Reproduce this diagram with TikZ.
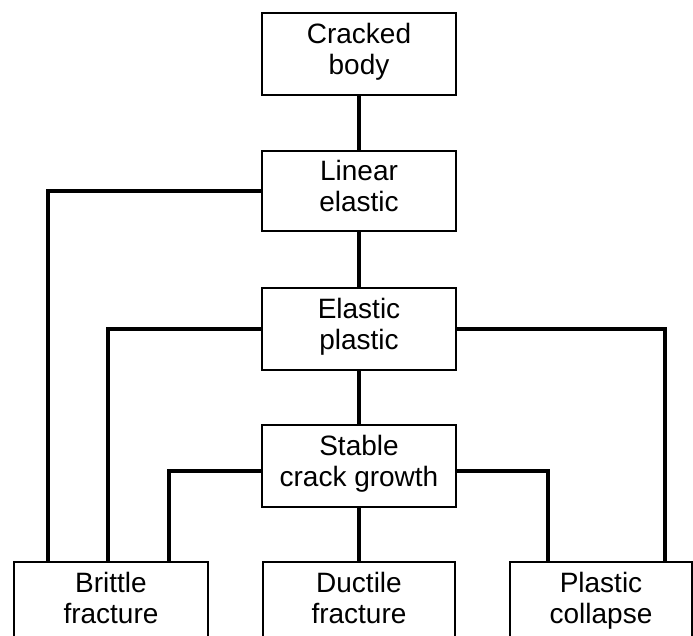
\documentclass[tikz,border=0pt]{standalone}
\usepackage{fontspec}
\setmainfont{Liberation Sans}
\begin{document}
\begin{tikzpicture}[x=0.5pt,y=-0.5pt,
  font=\fontsize{14}{15.5}\selectfont,
  stage/.style={draw,line width=1pt,align=center,minimum width=97pt,minimum height=41pt,inner sep=0pt,
    execute at begin node=\strut,execute at end node=\strut},
  link/.style={line width=1.8pt}]
\clip (0,0) rectangle (693,636);
\node[stage] (cracked) at (359,54) {Cracked\\body};
\node[stage,minimum height=40pt] (linear) at (359,191) {Linear\\elastic};
\node[stage] (elastic) at (359,329) {Elastic\\plastic};
\node[stage] (stable) at (359,466) {Stable\\crack growth};
\node[stage] (brittle) at (111,603) {Brittle\\fracture};
\node[stage,minimum width=96pt] (ductile) at (359,603) {Ductile\\fracture};
\node[stage,minimum width=91pt] (plastic) at (601,603) {Plastic\\collapse};
\draw[link] (cracked) -- (linear);
\draw[link] (linear) -- (elastic);
\draw[link] (elastic) -- (stable);
\draw[link] (stable) -- (ductile);
\draw[link] (linear.west) -| ([xshift=-31.5pt]brittle.north);
\draw[link] (elastic.west) -| ([xshift=-1.5pt]brittle.north);
\draw[link] ([yshift=-2.5pt]stable.west) -| ([xshift=29pt]brittle.north);
\draw[link] (elastic.east) -| ([xshift=32pt]plastic.north);
\draw[link] ([yshift=-2.5pt]stable.east) -| ([xshift=-26.5pt]plastic.north);
\end{tikzpicture}
\end{document}
